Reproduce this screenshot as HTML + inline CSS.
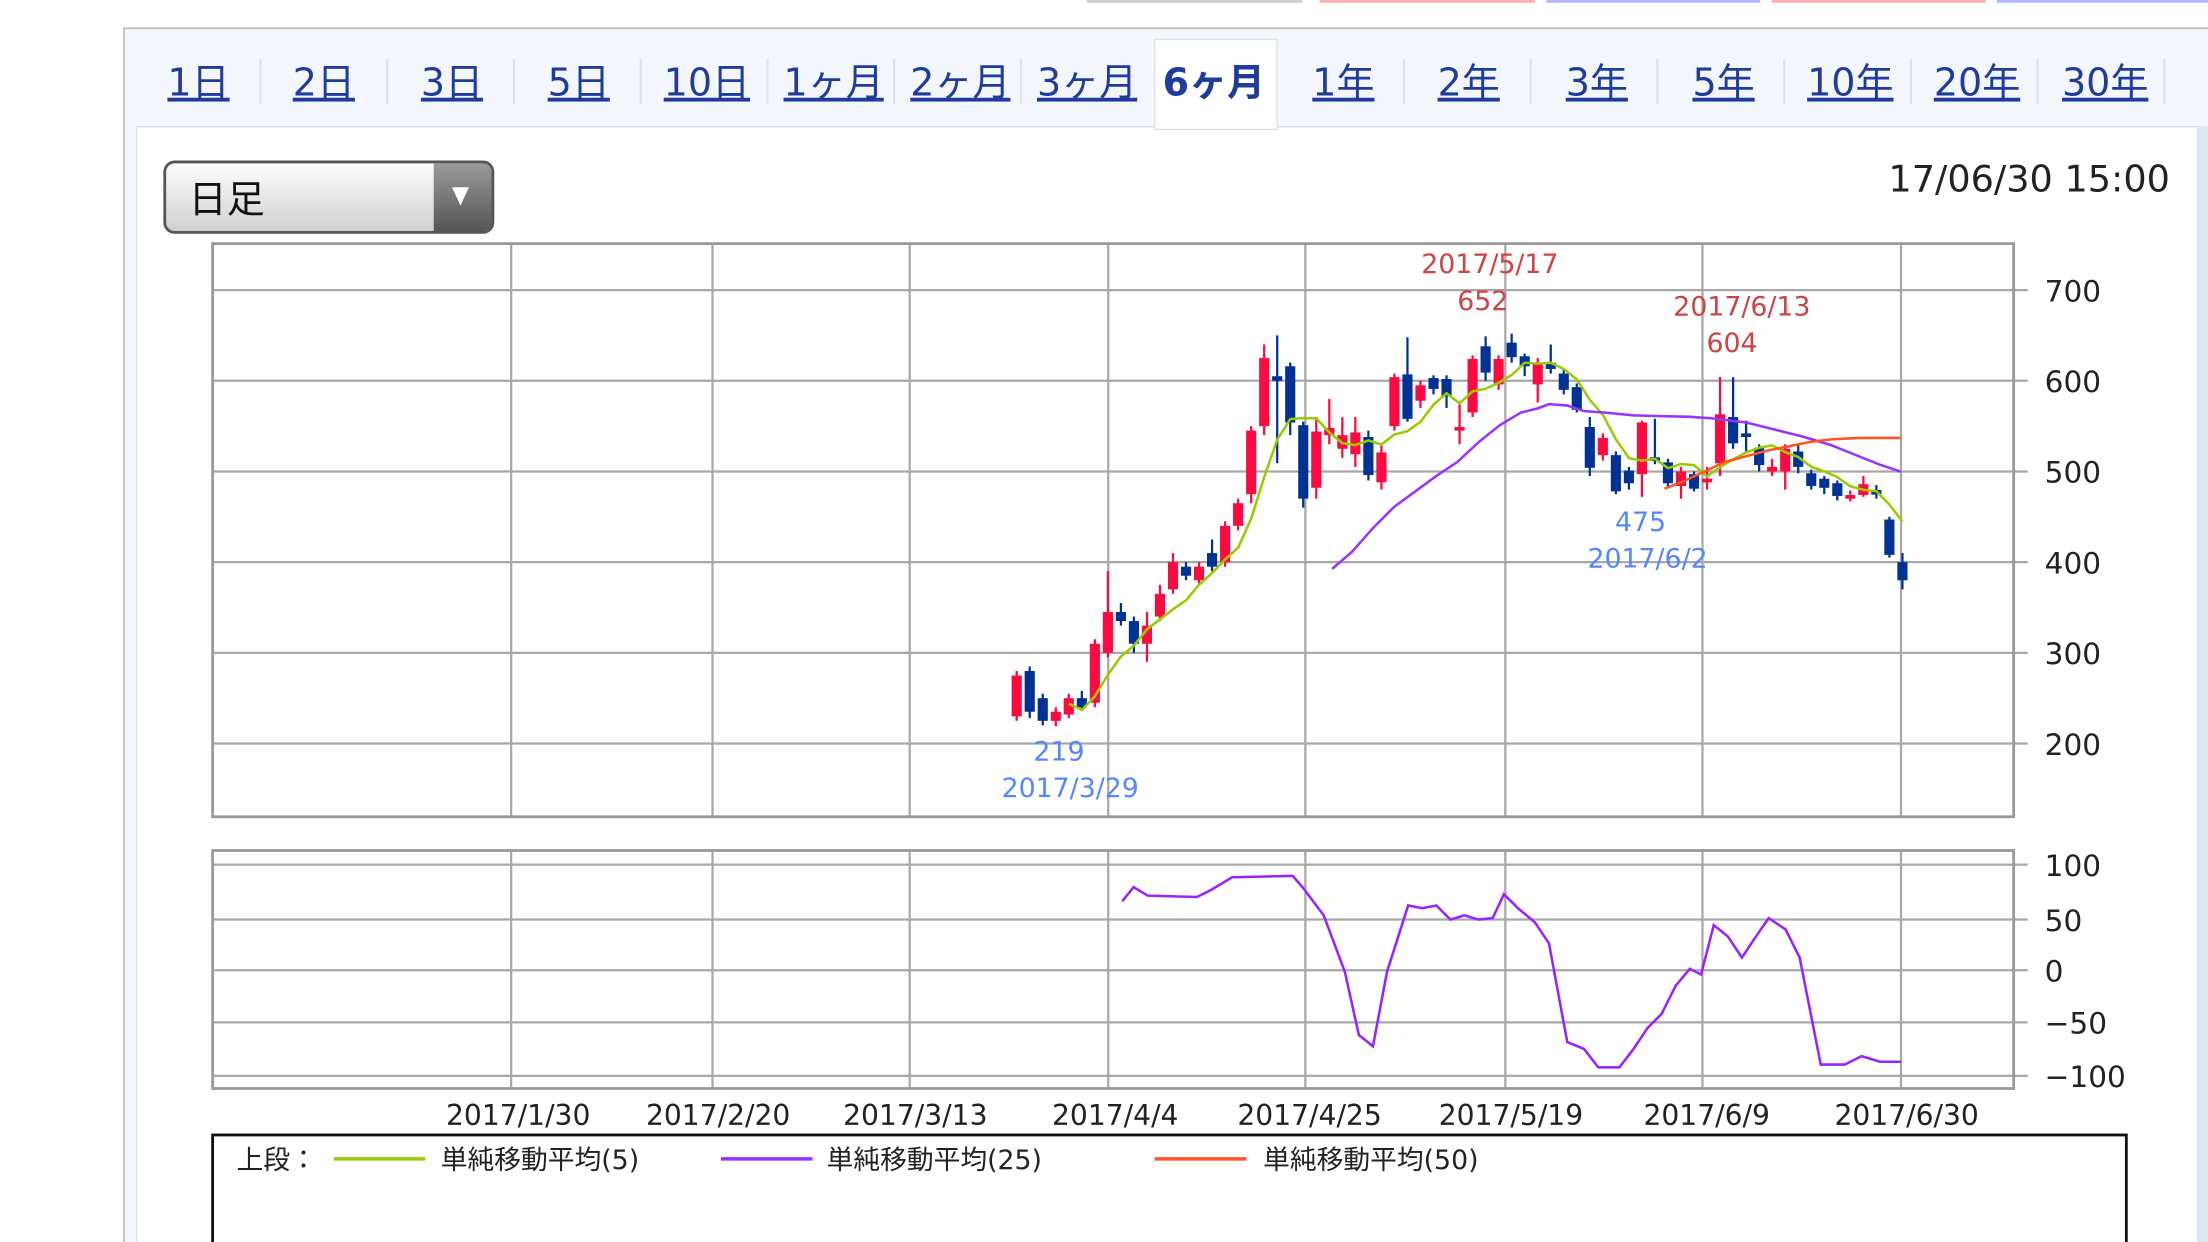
<!DOCTYPE html>
<html><head><meta charset="utf-8">
<style>
html,body{margin:0;padding:0;background:#fff;width:2208px;height:1242px;overflow:hidden}
svg{display:block}
text{font-family:"DejaVu Sans","Noto Sans CJK JP",sans-serif}
</style></head><body>
<svg id="s" width="2208" height="1242" viewBox="0 0 1568 882" preserveAspectRatio="none" xmlns="http://www.w3.org/2000/svg"></svg>
<script>
var s=document.getElementById('s'),h='';
function R(x,y,w,hh,f,st){h+='<rect x="'+x+'" y="'+y+'" width="'+w+'" height="'+hh+'" fill="'+f+'"'+(st?' stroke="'+st+'"':'')+'/>';}
function L(x1,y1,x2,y2,c,w){h+='<line x1="'+x1+'" y1="'+y1+'" x2="'+x2+'" y2="'+y2+'" stroke="'+c+'" stroke-width="'+(w||1.3)+'"/>';}
function T(x,y,t,sz,c,a,extra){h+='<text x="'+x+'" y="'+y+'" font-size="'+sz+'" fill="'+c+'" text-anchor="'+(a||'start')+'" '+(extra||'')+'>'+t+'</text>';}
R(772,0,153,2,'#d0d0d0');R(937,0,153,2,'#ffb0b0');R(1098,0,152,2,'#b8b8ff');R(1258,0,152,2,'#ffb0b0');R(1418,0,150,2,'#b8b8ff');
R(88,20,1490,900,'#f3f6fb','#b0b0b0');
R(97,90,1466,800,'#ffffff','#d8dde6');
R(1560,90,8,800,'#dde6f3');
var tabs=['1日','2日','3日','5日','10日','1ヶ月','2ヶ月','3ヶ月','6ヶ月','1年','2年','3年','5年','10年','20年','30年'];
var cx=[141,230,321,411,502,592,682,772,862,954,1043,1134,1224,1314,1404,1495];
var seps=[185,275,365,455,545,635,725,997,1087,1177,1267,1357,1447,1537];
seps.forEach(function(x){L(x,42,x,74,'#dde1e8',1.5);});
R(820,28,87,64,'#ffffff','#dde1e8');
tabs.forEach(function(t,i){
 if(i==8){T(cx[i],68,t,27,'#1f3c9c','middle','font-weight="bold" font-family="Liberation Sans, Noto Sans CJK JP, sans-serif"');}
 else{T(cx[i],68,t,27,'#1f3c9c','middle','text-decoration="underline" font-family="Liberation Sans, Noto Sans CJK JP, sans-serif"');}
});
h+='<defs><linearGradient id="g1" x1="0" y1="0" x2="0" y2="1"><stop offset="0" stop-color="#ffffff"/><stop offset="1" stop-color="#cfcfcf"/></linearGradient><linearGradient id="g2" x1="0" y1="0" x2="0" y2="1"><stop offset="0" stop-color="#9a9a9a"/><stop offset="1" stop-color="#555"/></linearGradient></defs>';
h+='<rect x="117" y="115" width="233" height="50" rx="7" fill="url(#g1)" stroke="#555" stroke-width="2"/>';
h+='<path d="M308 116 H343 A6 6 0 0 1 349 122 V158 A6 6 0 0 1 343 164 H308 Z" fill="url(#g2)"/>';
h+='<path d="M321 133 L333 133 L327 146 Z" fill="#fff"/>';
T(134,151,'日足',27,'#111','start','font-family="Liberation Sans, Noto Sans CJK JP, sans-serif"');
T(1541,136,'17/06/30 15:00',26,'#222','end','font-family="Liberation Sans, sans-serif"');
var X0=151,X1=1430,Y0=173,Y1=580;
R(X0,Y0,X1-X0,Y1-Y0,'#fff');
function py(p){return 206+(700-p)*0.644;}
[700,600,500,400,300,200].forEach(function(v){var y=py(v);L(X0,y,1440,y,'#a8a8a8',1.6);T(1452,y+8,v,21,'#222');});
var vg=[363,506,646,787,927,1069,1209,1350];
vg.forEach(function(x){L(x,Y0,x,Y1,'#a8a8a8',1.6);});
h+='<rect x="'+X0+'" y="'+Y0+'" width="'+(X1-X0)+'" height="'+(Y1-Y0)+'" fill="none" stroke="#9a9a9a" stroke-width="2"/>';
var d=[[230,275,280,225],[280,235,285,228],[250,225,255,220],[225,235,240,219],[232,250,255,228],[250,240,258,236],[245,310,315,240],[300,345,390,295],[345,335,355,330],[335,310,340,300],[310,330,345,290],[340,365,375,335],[370,400,410,365],[395,385,400,380],[380,395,400,375],[410,395,425,390],[400,440,445,395],[440,465,470,435],[475,545,550,465],[550,625,640,540],[605,600,650,509],[616,554,620,540],[551,470,555,460],[482,544,560,470],[540,548,580,530],[525,540,560,515],
[519,543,560,505],[538,496,545,490],[488,521,530,480],[550,604,608,545],[607,558,648,555],[578,595,600,570],[603,591,606,585],[602,583,606,570],[545,549,575,530],[565,624,628,560],[638,609,649,600],[596,624,628,590],[642,626,652,620],[627,616,630,605],[596,620,625,576],[620,613,640,608],
[608,590,612,585],[593,568,597,565],[549,504,560,495],[518,537,542,512],[518,478,522,475],[501,487,505,480],[497,554,556,472],[514,513,558,508],[510,487,514,482],[484,500,505,470],[497,481,500,478],[488,492,505,480],[509,563,604,495],[560,531,604,525],[542,538,556,520],[526,507,530,500],[500,505,514,495],[500,525,530,480],[522,505,530,498],[498,484,502,480],[492,482,495,475],[487,473,490,468],[470,474,479,467],[474,486,495,472],[478,476,485,470],[447,408,450,405],[400,380,410,370]];
var stp=(1351-722)/(d.length-1);
function cx_(i){return 722+i*stp;}
d.forEach(function(c,i){var x=cx_(i),up=c[1]>=c[0],col=up?'#ff0a40':'#003296';
 L(x,py(c[2]),x,py(c[3]),col,1.6);
 var t=py(Math.max(c[0],c[1])),b=py(Math.min(c[0],c[1]));if(b-t<2){t-=1;b+=1;}
 R(x-3.6,t,7.2,b-t,col);});
function ma(n,col){var pts=[];for(var i=n-1;i<d.length;i++){var sm=0;for(var j=i-n+1;j<=i;j++)sm+=d[j][1];pts.push(cx_(i).toFixed(1)+','+py(sm/n).toFixed(1));}
 if(pts.length>1)h+='<polyline points="'+pts.join(' ')+'" fill="none" stroke="'+col+'" stroke-width="1.8"/>';}
ma(5,'#99cc00');
h+='<polyline points="946,404 960,392 975,375 990,360 1005,349 1020,338 1035,328 1050,314 1065,302 1080,293 1092,290 1100,287 1113,288 1125,292 1140,293 1160,295 1200,296 1215,297 1240,300 1260,305 1280,310 1300,316 1320,324 1335,330 1350,335" fill="none" stroke="#9933ff" stroke-width="1.8"/>';
h+='<polyline points="1182,347 1195,342 1210,335 1225,328 1240,324 1255,320 1270,317 1285,314 1300,312 1320,311 1350,311" fill="none" stroke="#ff5522" stroke-width="1.8"/>';
T(1058,194,'2017/5/17',19,'#cc4444','middle');T(1053,220,'652',19,'#cc4444','middle');
T(1237,224,'2017/6/13',19,'#cc4444','middle');T(1230,250,'604',19,'#cc4444','middle');
T(1165,377,'475',19,'#5588ff','middle');T(1170,403,'2017/6/2',19,'#5588ff','middle');
T(752,540,'219',19,'#5588ff','middle');T(760,566,'2017/3/29',19,'#5588ff','middle');
var Z0=604,Z1=773;
R(X0,Z0,X1-X0,Z1-Z0,'#fff');
[[100,614],[50,653],[0,689],[-50,726],[-100,764]].forEach(function(v){L(X0,v[1],1440,v[1],'#a8a8a8',1.6);T(1452,v[1]+8,v[0]<0?'−'+(-v[0]):v[0],21,'#222');});
vg.forEach(function(x){L(x,Z0,x,Z1,'#a8a8a8',1.6);});
h+='<rect x="'+X0+'" y="'+Z0+'" width="'+(X1-X0)+'" height="'+(Z1-Z0)+'" fill="none" stroke="#9a9a9a" stroke-width="2"/>';
h+='<polyline points="797,640 805,630 815,636 850,637 860,632 875,623 918,622 925,630 940,650 955,690 965,735 975,743 985,690 1000,643 1010,645 1020,643 1030,653 1040,650 1050,653 1060,652 1068,635 1078,645 1090,655 1100,670 1113,740 1125,745 1135,758 1150,758 1160,745 1170,730 1180,720 1190,700 1200,688 1208,692 1217,657 1227,665 1237,680 1247,665 1256,652 1268,660 1278,680 1293,756 1310,756 1322,750 1335,754 1350,754" fill="none" stroke="#9922ff" stroke-width="1.8"/>';
[['2017/1/30',368],['2017/2/20',510],['2017/3/13',650],['2017/4/4',792],['2017/4/25',930],['2017/5/19',1073],['2017/6/9',1212],['2017/6/30',1354]].forEach(function(v){T(v[1],799,v[0],20,'#222','middle');});
h+='<rect x="151" y="806" width="1359" height="100" fill="#fff" stroke="#111" stroke-width="2"/>';
T(168,830,'上段：',19,'#222');
L(237,823,302,823,'#99cc00',2.5);T(313,830,'単純移動平均(5)',19,'#222');
L(512,823,577,823,'#9933ff',2.5);T(587,830,'単純移動平均(25)',19,'#222');
L(820,823,885,823,'#ff5522',2.5);T(897,830,'単純移動平均(50)',19,'#222');
s.innerHTML=h;
</script>
</body></html>
